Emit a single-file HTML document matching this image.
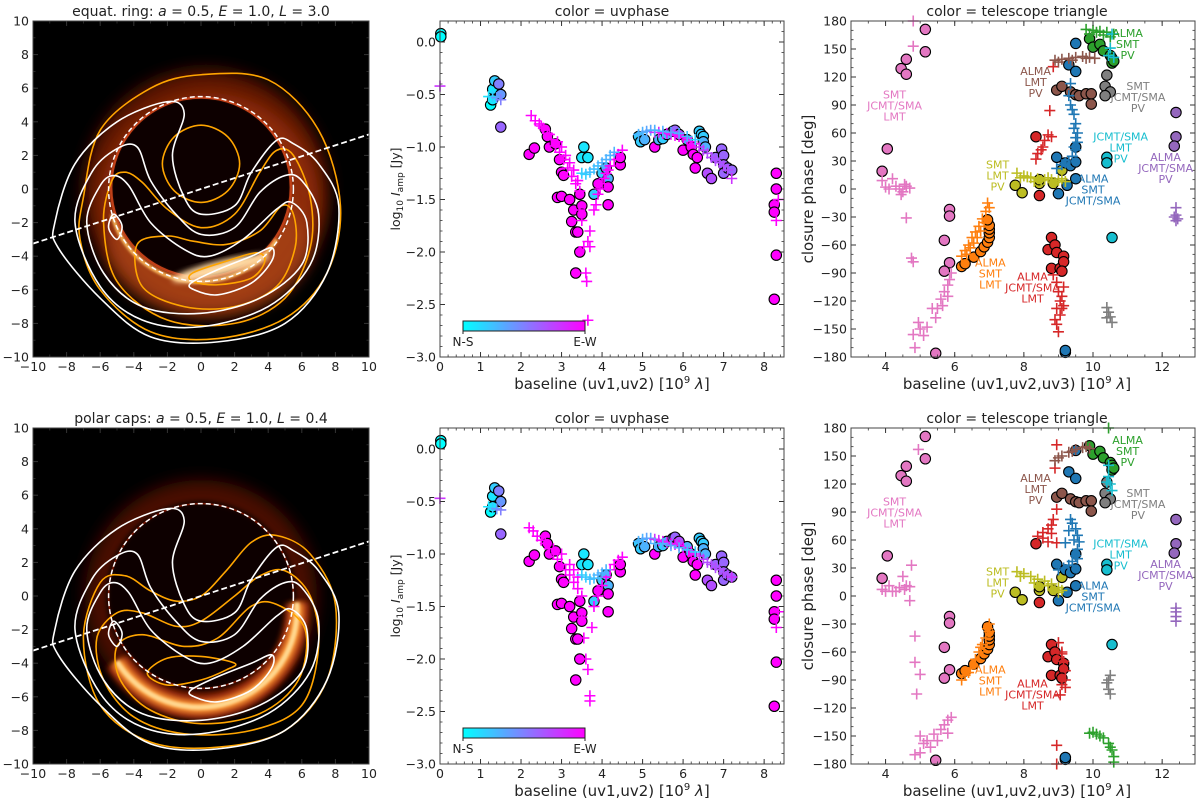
<!DOCTYPE html>
<html><head><meta charset="utf-8"><style>
html,body{margin:0;padding:0;background:#fff;}
svg{display:block;font-family:"DejaVu Sans","Liberation Sans",sans-serif;}
</style></head><body>
<svg id="fig" width="1200" height="802" viewBox="0 0 1200 802" xmlns="http://www.w3.org/2000/svg">
<defs>
<filter id="blur3" x="-20%" y="-20%" width="140%" height="140%"><feGaussianBlur stdDeviation="3"/></filter>
<filter id="blur8" x="-30%" y="-30%" width="160%" height="160%"><feGaussianBlur stdDeviation="8"/></filter>
<filter id="blur1" x="-20%" y="-20%" width="140%" height="140%"><feGaussianBlur stdDeviation="1.2"/></filter>
<linearGradient id="coolbar" x1="0" x2="1" y1="0" y2="0"><stop offset="0" stop-color="#00ffff"/><stop offset="0.5" stop-color="#8080ff"/><stop offset="1" stop-color="#ff00ff"/></linearGradient>
<clipPath id="clipL0"><rect x="33" y="21" width="336" height="336"/></clipPath>
<clipPath id="clipL1"><rect x="33" y="428" width="336" height="336"/></clipPath>
</defs>
</svg>
<script>
// ---------- data: middle panels (x in 1e9 lambda, log10 amp, colour param 0=N-S,1=E-W)
const midCircX=[0.02,0.02,1.25,1.3,1.35,1.45,1.5,1.5,1.3,2.2,2.33,2.6,2.65,2.7,2.85,2.95,3.0,3.05,2.9,3.0,3.2,3.3,3.25,3.35,3.4,3.45,3.35,3.5,3.5,3.45,3.55,3.5,3.65,3.8,3.9,4.0,4.1,4.15,4.15,4.15,4.45,4.45,4.9,4.95,5.05,5.3,5.4,5.5,5.6,5.75,5.8,5.9,6.0,6.1,6.2,6.25,6.3,6.35,6.4,6.45,6.5,6.5,6.55,6.6,6.7,6.8,6.95,7.0,7.0,7.0,7.1,7.2,8.3,8.3,8.25,8.25,8.3,8.25];
const midCircY=[0.08,0.05,-0.6,-0.45,-0.37,-0.4,-0.5,-0.81,-0.55,-1.07,-1.01,-0.83,-0.9,-1.0,-0.97,-1.12,-1.24,-1.27,-1.48,-1.47,-1.5,-1.6,-1.71,-1.81,-1.81,-2.0,-2.2,-1.56,-1.64,-1.45,-1.0,-1.1,-1.1,-1.45,-1.35,-1.25,-1.2,-1.3,-1.38,-1.55,-1.17,-1.1,-0.9,-0.95,-0.93,-1.0,-0.93,-0.92,-0.88,-0.85,-0.84,-0.88,-1.03,-0.93,-1.0,-1.07,-1.2,-1.1,-0.85,-0.88,-0.9,-0.95,-1.0,-1.25,-1.3,-1.1,-1.02,-1.08,-1.17,-1.25,-1.2,-1.22,-1.25,-1.4,-1.55,-1.62,-2.03,-2.45];
const midCircC=[0,0,0,0.1,0.2,0.5,0.4,0.6,0.1,1,1,1,1,1,1,1,1,1,1,1,1,1,1,1,1,1,1,1,1,1,0.1,0.1,0.1,0.2,1,0.2,0.3,0.3,1,1,1,1,0.2,0.2,0.3,1,0.3,0.2,0.3,0.5,0.6,0.7,1,0.3,1,1,1,1,0.2,0.2,0.2,0.3,0.3,0.7,0.7,0.6,0.6,0.6,0.6,0.6,0.6,0.6,1,1,1,1,1,1];
const midCrossTopX=[0.0,1.2,1.3,1.4,1.5,2.25,2.35,2.45,2.55,2.65,2.75,2.85,2.95,3.05,3.15,3.25,3.35,3.45,3.4,3.3,3.2,3.1,3.0,2.9,2.5,2.7,3.45,3.5,3.55,3.6,3.62,3.65,3.7,3.7,3.65,3.8,3.85,3.9,4.0,4.1,4.2,4.3,4.4,4.5,3.95,4.05,4.15,3.5,3.6,3.7,3.8,3.9,4.0,4.1,4.2,4.3,4.9,5.0,5.1,5.2,5.3,5.4,5.5,5.6,5.7,5.8,5.9,6.0,6.1,6.2,6.3,6.4,6.5,6.6,6.7,6.8,6.9,7.0,7.1,7.2,5.3,5.5,5.7,5.9,6.1,6.3,8.35,8.3];
const midCrossTopY=[-0.42,-0.52,-0.52,-0.53,-0.55,-0.7,-0.75,-0.78,-0.82,-0.87,-0.93,-0.99,-1.05,-1.12,-1.2,-1.28,-1.35,-1.42,-1.32,-1.22,-1.15,-1.08,-1.0,-0.95,-0.8,-0.88,-1.6,-1.7,-1.95,-2.2,-2.28,-1.9,-1.8,-1.95,-2.65,-1.6,-1.55,-1.45,-1.35,-1.25,-1.18,-1.12,-1.07,-1.03,-1.4,-1.3,-1.22,-1.25,-1.26,-1.24,-1.21,-1.18,-1.15,-1.12,-1.08,-1.05,-0.88,-0.86,-0.85,-0.84,-0.86,-0.86,-0.87,-0.87,-0.88,-0.89,-0.9,-0.91,-0.93,-0.95,-0.97,-1.0,-1.03,-1.06,-1.1,-1.13,-1.15,-1.18,-1.22,-1.3,-0.84,-0.85,-0.86,-0.87,-0.9,-0.93,-1.5,-1.7];
const midCrossTopC=[0.8,0.1,0.2,0.4,0.5,1,1,1,1,1,1,1,1,1,1,1,1,1,1,1,1,1,1,1,1,1,1,1,1,1,1,1,1,1,1,1,1,1,1,1,1,1,1,1,1,1,1,0.2,0.2,0.25,0.25,0.25,0.3,0.3,0.3,0.3,0.3,0.3,0.35,0.35,0.8,0.85,0.9,0.9,0.95,0.95,1,1,1,1,0.9,0.8,0.75,0.7,0.7,0.7,0.7,0.7,0.7,0.8,0.3,0.3,0.35,0.3,0.25,0.2,1,1];
const midCrossBotX=[0.0,1.2,1.3,1.4,1.5,2.2,2.3,2.4,2.5,2.6,2.7,2.8,2.9,3.0,3.1,3.2,3.3,3.4,3.5,3.4,3.3,3.2,3.0,2.8,3.5,3.55,3.6,3.65,3.7,3.7,3.75,3.8,3.9,4.0,4.1,4.2,4.3,4.4,4.5,3.5,3.6,3.7,3.8,3.9,4.0,4.1,4.9,5.0,5.1,5.2,5.3,5.4,5.5,5.6,5.7,5.8,5.9,6.0,6.1,6.2,6.3,6.4,6.5,6.6,6.7,6.8,6.9,7.0,7.1,7.2,5.3,5.5,5.7,5.9,6.1,6.3,8.35,8.3];
const midCrossBotY=[-0.47,-0.55,-0.56,-0.57,-0.58,-0.75,-0.78,-0.83,-0.87,-0.9,-0.95,-1.0,-1.05,-1.1,-1.15,-1.2,-1.27,-1.33,-1.4,-1.22,-1.15,-1.1,-1.0,-0.95,-1.6,-1.8,-2.0,-2.1,-2.35,-2.4,-1.7,-1.5,-1.4,-1.3,-1.22,-1.15,-1.1,-1.06,-1.03,-1.2,-1.22,-1.24,-1.23,-1.2,-1.18,-1.15,-0.88,-0.86,-0.85,-0.85,-0.86,-0.87,-0.88,-0.89,-0.9,-0.91,-0.92,-0.94,-0.96,-0.98,-1.0,-1.02,-1.05,-1.08,-1.1,-1.13,-1.15,-1.18,-1.2,-1.22,-0.9,-0.9,-0.92,-0.94,-0.96,-0.98,-1.55,-1.7];
const midCrossBotC=[0.8,0.1,0.2,0.4,0.5,1,1,1,1,1,1,1,1,1,1,1,1,1,1,1,1,1,1,1,1,1,1,1,1,1,1,1,1,1,1,1,1,1,1,0.2,0.2,0.25,0.25,0.3,0.3,0.3,0.3,0.3,0.35,0.35,0.8,0.85,0.9,0.9,0.95,0.95,1,1,1,1,0.9,0.8,0.75,0.7,0.7,0.7,0.7,0.7,0.7,0.8,0.3,0.3,0.35,0.3,0.25,0.2,1,1];
const midXTicks=[0,1,2,3,4,5,6,7,8];
const midYTicks=[0.0,-0.5,-1.0,-1.5,-2.0,-2.5,-3.0];

// ---------- data: right panels (x in 1e9 lambda, closure phase deg, triangle index)
const triNames=["pink","orange","olive","red","blue","brown","green","gray","cyan","purple"];
const triColors=["#e377c2","#ff7f0e","#bcbd22","#d62728","#1f77b4","#8c564b","#2ca02c","#7f7f7f","#17becf","#9467bd"];
const rCircX=[3.9,4.05,4.45,4.6,4.6,5.15,5.15,5.45,5.7,5.85,5.85,5.85,5.7, 6.2,6.3,6.55,6.75,6.85,6.95,7.0,7.0,7.0,7.0,6.95, 7.75,7.95,8.45,8.45,9.1,8.85, 8.35,8.45,8.8,8.7,8.9,8.8,8.95,9.05,9.15,9.15,9.1, 9.5,9.3,9.5,8.95,9.0,9.25,9.2,9.35,9.5,9.5,9.5,9.2,9.2, 8.95,9.1,9.35,9.5,9.6,9.8,9.95,9.95, 9.9,10.0,10.2,10.3,10.5,10.55,10.55,10.6, 10.4,10.35,10.5,10.35, 10.4,10.4,10.55, 12.4,12.4,12.35];
const rCircY=[19,43,129,139,123,171,147,-176,-55,-22,-29,-79,-88, -83,-80,-73,-67,-62,-57,-52,-47,-43,-39,-33, 4,-4,6,10,20,6, 56,-7,-52,-65,-60,-85,-68,-85,-72,-78,-88, 156,133,126,34,-5,4,28,25,29,45,11,-175,-173, 106,110,104,101,100,102,102,91, 161,152,155,148,143,140,135,137, 122,110,104,100, 34,28,-52, 82,56,46];
const rCircT=[0,0,0,0,0,0,0,0,0,0,0,0,0, 1,1,1,1,1,1,1,1,1,1,1, 2,2,2,2,2,2, 3,3,3,3,3,3,3,3,3,3,3, 4,4,4,4,4,4,4,4,4,4,4,4,4, 5,5,5,5,5,5,5,5, 6,6,6,6,6,6,6,6, 7,7,7,7, 8,8,8, 9,9,9];
const rCrossTopX=[4.8,4.8,3.9,4.0,4.1,4.2,4.3,4.4,4.5,4.55,4.6,4.7,4.45,4.6,4.75,4.8,4.85,4.8,4.95,5.0,5.1,5.2,5.35,5.45,5.5,5.6,5.7,5.8,5.85,5.9,5.8,5.65, 6.2,6.3,6.4,6.5,6.6,6.7,6.8,6.9,6.95,6.35,6.55,6.75,6.85,6.45,6.65,7.0, 8.85,8.75,8.7,8.6,8.5,8.4,8.35,8.55,8.8,8.85,8.95,9.0,9.05,9.1,9.1,9.15,8.95,8.9,8.95,9.0,9.05,9.15, 8.9,9.1,9.3,9.5,9.7,9.9,10.05,9.0,9.4,9.8, 9.8,10.0,10.2,10.4,10.6,9.9,10.1,10.3,10.5, 10.55,10.5,10.45,10.6, 9.35,9.3,9.35,9.45,9.5,9.55,9.55,9.5,9.4,9.3,9.1,8.95,9.45,9.5,9.45,9.4,9.2, 7.8,8.0,8.2,8.4,8.6,8.8,9.0,9.2,8.1,8.5,8.9,9.1,7.9,8.3,8.7, 10.4,10.45,10.5,10.55,10.4, 12.4,12.4,12.45,12.35,12.4];
const rCrossTopY=[180,153,9,2,0,11,3,0,-3,5,3,1,-6,-31,-74,-78,-170,-156,-143,-150,-157,-148,-128,-138,-128,-118,-110,-103,-97,-90,-115,-125, -72,-66,-60,-52,-46,-40,-32,-24,-15,-70,-58,-45,-36,-63,-52,-20, 131,84,58,52,42,38,32,45,56,-92,-100,-110,-120,-128,-115,-105,-128,-140,-145,-153,-135,-125, 138,139,140,141,142,141,140,136,138,140, 171,170,169,168,166,166,168,165,163, 166,151,143,141, 113,100,90,80,70,60,50,42,35,30,26,22,65,55,45,85,28, 17,14,12,11,10,10,9,8,13,9,7,11,12,8,12, -127,-132,-137,-143,-138, -20,-28,-32,-30,-34];
const rCrossTopT=[0,0,0,0,0,0,0,0,0,0,0,0,0,0,0,0,0,0,0,0,0,0,0,0,0,0,0,0,0,0,0,0, 1,1,1,1,1,1,1,1,1,1,1,1,1,1,1,1, 3,3,3,3,3,3,3,3,3,3,3,3,3,3,3,3,3,3,3,3,3,3, 5,5,5,5,5,5,5,5,5,5, 6,6,6,6,6,6,6,6,6, 8,8,8,8, 4,4,4,4,4,4,4,4,4,4,4,4,4,4,4,4,4, 2,2,2,2,2,2,2,2,2,2,2,2,2,2,2, 7,7,7,7,7, 9,9,9,9,9];
const rCrossBotX=[4.95,3.9,4.0,4.1,4.2,4.3,4.5,4.6,4.4,4.55,4.7,4.75,4.7,4.85,4.85,5.0,4.9,4.85,5.0,5.1,5.0,5.2,5.4,5.6,5.7,5.8,5.9,5.5,5.8,5.3, 6.2,6.3,6.45,6.6,6.7,6.8,6.9,7.0,7.0,6.4,6.75,6.95, 8.95,8.9,8.95,8.85,8.8,8.7,8.55,8.4,8.55,8.7,8.95,8.8,9.1,9.15,9.2,9.2,9.1,9.05,9.2,9.0,9.1,8.95,8.95, 8.9,9.1,9.3,9.5,9.7,9.9,9.0,9.4,9.8, 10.45,9.9,10.1,10.3,10.45,10.55,10.6,10.6,10.0,10.2,10.5, 10.45,10.45,10.5,10.55,10.4, 9.4,9.5,9.55,9.6,9.55,9.5,9.4,9.3,9.15,9.0,9.2,9.45,9.3,9.35,9.55, 7.8,8.0,8.2,8.4,8.6,8.8,9.0,9.1,8.3,8.7,8.9,9.0,7.9, 10.45,10.5,10.4,10.45,10.5, 12.4,12.4,12.4,12.4];
const rCrossBotY=[157,7,5,11,5,5,21,11,9,7,10,33,-5,-43,-71,-84,-105,-170,-168,-158,-150,-155,-148,-143,-138,-133,-130,-155,-147,-162, -90,-85,-78,-68,-60,-52,-45,-38,-30,-82,-55,-35, 162,137,93,82,76,72,68,64,62,58,57,67,-60,-70,-80,-90,-95,-106,-98,-50,-62,-160,-180, 145,150,154,157,159,158,148,155,160, 180,-147,-148,-152,-158,-165,-172,-178,-146,-150,-162, 140,128,120,113,122, 78,72,65,58,50,43,37,33,30,28,57,60,70,82,40, 26,24,21,18,16,13,9,6,14,11,7,4,21, -90,-85,-93,-100,-105, -13,-17,-22,-27];
const rCrossBotT=[0,0,0,0,0,0,0,0,0,0,0,0,0,0,0,0,0,0,0,0,0,0,0,0,0,0,0,0,0,0, 1,1,1,1,1,1,1,1,1,1,1,1, 3,3,3,3,3,3,3,3,3,3,3,3,3,3,3,3,3,3,3,3,3,3,3, 5,5,5,5,5,5,5,5,5, 6,6,6,6,6,6,6,6,6,6,6, 8,8,8,8,8, 4,4,4,4,4,4,4,4,4,4,4,4,4,4,4, 2,2,2,2,2,2,2,2,2,2,2,2,2, 7,7,7,7,7, 9,9,9,9];
const rXTicks=[4,6,8,10,12];
const rYTicks=[180,150,120,90,60,30,0,-30,-60,-90,-120,-150,-180];
const rLabelText=[["ALMA","SMT","PV"],["ALMA","LMT","PV"],["SMT","JCMT/SMA","LMT"],["SMT","JCMT/SMA","PV"],["JCMT/SMA","LMT","PV"],["ALMA","JCMT/SMA","PV"],["SMT","LMT","PV"],["ALMA","SMT","JCMT/SMA"],["ALMA","SMT","LMT"],["ALMA","JCMT/SMA","LMT"]];
const rLabelTri=[6,5,0,7,8,9,2,4,1,3];
const rLabelX=[11.0,8.34,4.26,11.3,10.8,12.1,7.24,10.0,7.03,8.25];
const rLabelDeg=[163,122,97,106,52,30,22,7,-83,-98];

// ---------- data: left panels (image-plane contours, units of M)
const imgTicks=[-10,-8,-6,-4,-2,0,2,4,6,8,10];
const whiteC1=[[-8.7,-2],[-7.5,1.5],[-5,4],[-2,5.2],[-1,4.5],[-1.7,2],[-1,-0.5],[0,-1.5],[2,-1],[3,1],[4.5,2.9],[5.5,2.7],[7,1.5],[8.2,-1],[7.5,-5],[5,-8],[1,-9.1],[-3,-8.8],[-6,-6.5],[-8.5,-3.5]];
const whiteC2=[[-7.5,-2],[-6.5,1],[-5,2.4],[-3.8,2.5],[-3,0.5],[-1.5,-1.5],[0,-2.7],[2,-2.3],[3.5,-0.2],[5,0.8],[6,0.5],[7,-1.5],[6.5,-4.5],[4,-7],[0,-8.2],[-3.5,-7.8],[-6,-5.8]];
const whiteC3=[[-6.8,-2],[-6,0.2],[-5.2,0.8],[-4.3,0.2],[-3,-2],[-1,-3.6],[0.5,-4],[2.5,-3],[4.5,-1.2],[5.4,-0.8],[6.3,-2],[6,-4.5],[3.5,-6.5],[0,-7.4],[-3.5,-7],[-5.8,-5]];
const whiteC4=[[-5.2,-1.5],[-4.7,-2.2],[-5,-3],[-5.5,-2.3]];
const whiteC5=[[-0.6,-5.6],[1,-4.8],[3,-4],[4.2,-3.5],[4.2,-4.3],[3,-5.6],[1,-6.3],[-0.4,-6]];
const orTop1=[[-7,-0.5],[-6,3.5],[-3,6],[0,6.8],[4,6.5],[7,3.5],[8.3,-1],[7.5,-5],[5,-7.7],[1,-8.9],[-3,-8.5],[-6,-6],[-7.2,-3]];
const orTop2=[[0,3.8],[1.6,3.1],[2.3,1.5],[1.6,-0.1],[0,-0.8],[-1.6,-0.1],[-2.3,1.5],[-1.6,3.1]];
const orTop3=[[-5.8,-2],[-5.3,0.5],[-4.5,1],[-3.5,0.4],[-2,-1.2],[0,-2.3],[2,-1.5],[3.5,1],[4.5,2.3],[5.5,2],[6.5,-0.5],[6.5,-3.5],[5,-6.5],[2,-8],[-2,-7.8],[-5,-5.5]];
const orTop4=[[-3.8,-3.3],[-2,-2.8],[-0.5,-3.1],[1.5,-3.3],[3.5,-2.5],[4.8,-1],[5.5,-1.5],[5.6,-3.5],[4.5,-5.8],[2,-7],[-1,-7],[-3.5,-5.8]];
const orTop5=[[-0.5,-5],[1.5,-4.3],[3.3,-3.8],[3.8,-4.3],[3,-5.3],[1,-5.7],[-0.5,-5.5]];
const orBot1=[[-7,-2.5],[-6,0.8],[-4.5,1.2],[-3,0.3],[-1.5,-0.3],[0,0],[1.5,1.5],[3,3.2],[4.5,3.6],[6.5,2.5],[8,-0.5],[7.5,-5],[5,-8],[1,-9],[-3,-8.7],[-6,-6.5]];
const orBot2=[[-6.2,-2.5],[-5,-1],[-3.5,-1],[-1.5,-1.8],[0,-1.5],[2,0],[3.5,1.2],[5,1.5],[6.5,0],[7,-3],[6,-6.5],[3,-8],[-1,-8.2],[-4,-7.2],[-5.8,-5]];
const orBot3=[[-5,-3],[-3.5,-2.3],[-1,-3],[1,-2.5],[3,-0.6],[4.5,-0.5],[6.2,-2],[5.8,-5],[3.5,-7],[0,-7.6],[-3,-6.8],[-4.8,-5]];
const orBot4=[[-3.2,-4.6],[-2,-3.7],[0,-3.6],[2,-4],[1.5,-4.4],[0,-5],[-2,-5.3]];
</script>
<script>
const NS="http://www.w3.org/2000/svg";
const svg=document.getElementById('fig');
function mk(tag,attrs,parent){const e=document.createElementNS(NS,tag);for(const k in attrs)e.setAttribute(k,attrs[k]);(parent||svg).appendChild(e);return e;}
function fmt(v,dec){let s=v.toFixed(dec);return s.replace('-','\u2212');}
function cool(t){return 'rgb('+Math.round(255*t)+','+Math.round(255*(1-t))+',255)';}

function axes(name,X0,X1,Y0,Y1,xmin,xmax,ymin,ymax,xt,yt,xdec,ydec,xminor,yminor){
  const g=mk('g',{});
  
  
  const sx=v=>X0+(v-xmin)/(xmax-xmin)*(X1-X0);
  const sy=v=>Y1-(v-ymin)/(ymax-ymin)*(Y1-Y0);
  return {g,sx,sy,X0,X1,Y0,Y1,xmin,xmax,ymin,ymax,xt,yt,xdec,ydec,xminor,yminor,name};
}
function frame(a){
  const g=mk('g',{});
  
  
  const tc='#333';
  for(let v=Math.ceil(a.xmin/a.xminor)*a.xminor;v<=a.xmax+1e-9;v+=a.xminor){const x=a.sx(v);
    mk('line',{x1:x,x2:x,y1:a.Y1,y2:a.Y1-2.5,stroke:tc,'stroke-width':0.8},g);mk('line',{x1:x,x2:x,y1:a.Y0,y2:a.Y0+2.5,stroke:tc,'stroke-width':0.8},g);}
  for(let v=Math.ceil(a.ymin/a.yminor)*a.yminor;v<=a.ymax+1e-9;v+=a.yminor){const y=a.sy(v);
    mk('line',{x1:a.X0,x2:a.X0+2.5,y1:y,y2:y,stroke:tc,'stroke-width':0.8},g);mk('line',{x1:a.X1,x2:a.X1-2.5,y1:y,y2:y,stroke:tc,'stroke-width':0.8},g);}
  a.xt.forEach(v=>{const x=a.sx(v);
    mk('line',{x1:x,x2:x,y1:a.Y1,y2:a.Y1-5,stroke:tc,'stroke-width':1},g);mk('line',{x1:x,x2:x,y1:a.Y0,y2:a.Y0+5,stroke:tc,'stroke-width':1},g);
    const t=mk('text',{x:x,y:a.Y1+14,'text-anchor':'middle','font-size':12.5,fill:'#222'},g);t.textContent=fmt(v,a.xdec);
    
    });
  a.yt.forEach(v=>{const y=a.sy(v);
    mk('line',{x1:a.X0,x2:a.X0+5,y1:y,y2:y,stroke:tc,'stroke-width':1},g);mk('line',{x1:a.X1,x2:a.X1-5,y1:y,y2:y,stroke:tc,'stroke-width':1},g);
    const t=mk('text',{x:a.X0-4,y:y+4.5,'text-anchor':'end','font-size':12.5,fill:'#222'},g);t.textContent=fmt(v,a.ydec);
    
    });
  mk('rect',{x:a.X0,y:a.Y0,width:a.X1-a.X0,height:a.Y1-a.Y0,fill:'none',stroke:'#444','stroke-width':1},g);
}
function title(x,y,html,name){const t=mk('text',{x:x,y:y,'text-anchor':'middle','font-size':14,fill:'#222'});t.innerHTML=html;
  
  return t;}
function smooth(pts,a){
  const P=pts.map(p=>[a.sx(p[0]),a.sy(p[1])]);const n=P.length;let d='M'+P[0][0]+','+P[0][1];
  for(let i=0;i<n;i++){const p0=P[(i-1+n)%n],p1=P[i],p2=P[(i+1)%n],p3=P[(i+2)%n];
    d+=' C'+(p1[0]+(p2[0]-p0[0])/6)+','+(p1[1]+(p2[1]-p0[1])/6)+' '+(p2[0]-(p3[0]-p1[0])/6)+','+(p2[1]-(p3[1]-p1[1])/6)+' '+p2[0]+','+p2[1];}
  return d+'Z';
}
function circ(g,x,y,fill){const c=mk('circle',{cx:x,cy:y,r:5.2,fill:fill,stroke:'#000','stroke-width':1.1},g);return c;}
function cross(g,x,y,col){const p=mk('path',{d:'M'+(x-5.5)+','+y+'H'+(x+5.5)+'M'+x+','+(y-5.5)+'V'+(y+5.5),stroke:col,'stroke-width':1.6,fill:'none'},g);return p;}

// ------------ LEFT image panels
function imagePanel(row){
  const dy=row*407;
  const a=axes('image-'+row,33,369,21+dy,357+dy,-10,10,-10,10,imgTicks,imgTicks,0,0,1,1);
  const cl=mk('g',{'clip-path':'url(#clipL'+row+')'});
  
  
  mk('rect',{x:33,y:21+dy,width:336,height:336,fill:'#000'},cl);
  const u=16.8;const cx=a.sx(0),cy=a.sy(0);
  if(row===0){
    mk('circle',{cx:a.sx(0.3),cy:a.sy(-0.2),r:7.3*u,fill:'#5e1204',filter:'url(#blur8)'},cl);
    mk('circle',{cx:a.sx(0.5),cy:a.sy(-0.8),r:6.5*u,fill:'#9a3010',opacity:0.8,filter:'url(#blur8)'},cl);
    mk('ellipse',{cx:a.sx(0.5),cy:a.sy(-3.5),rx:6*u,ry:4*u,fill:'#c86028',opacity:0.35,filter:'url(#blur8)'},cl);
    mk('circle',{cx:cx,cy:a.sy(0.1),r:5.35*u,fill:'#0a0000',filter:'url(#blur1)'},cl);
    mk('circle',{cx:cx,cy:a.sy(0.1),r:5.35*u,fill:'none',stroke:'#c04018','stroke-width':2.5},cl);
    mk('path',{d:'M'+a.sx(-5.3)+','+a.sy(-1.5)+' A'+5.4*u+','+5.4*u+' 0 0,0 '+a.sx(4.5)+','+a.sy(-3),fill:'none',stroke:'#ffc060','stroke-width':3.5,filter:'url(#blur1)'},cl);
    mk('ellipse',{cx:a.sx(1.2),cy:a.sy(-4.7),rx:3*u,ry:0.45*u,fill:'#ffd8a0',transform:'rotate(-14 '+a.sx(1.2)+' '+a.sy(-4.7)+')',filter:'url(#blur3)'},cl);
  } else {
    mk('circle',{cx:cx,cy:a.sy(0),r:6.9*u,fill:'#4a0c02',filter:'url(#blur8)'},cl);
    mk('circle',{cx:cx,cy:a.sy(0),r:5.6*u,fill:'#0a0000',filter:'url(#blur3)'},cl);
    mk('circle',{cx:cx,cy:a.sy(0),r:5.5*u,fill:'none',stroke:'#7a1a06','stroke-width':1.5},cl);
    const arc='M'+a.sx(-5)+','+a.sy(-3.9)+' A'+5.8*u+','+5.8*u+' 0 0,0 '+a.sx(5.7)+','+a.sy(-0.4);
    mk('path',{d:arc,fill:'none',stroke:'#a83008','stroke-width':24,filter:'url(#blur3)',opacity:0.9},cl);
    mk('path',{d:arc,fill:'none',stroke:'#ff9a38','stroke-width':12,filter:'url(#blur3)'},cl);
    mk('path',{d:arc,fill:'none',stroke:'#ffd890','stroke-width':5,filter:'url(#blur1)'},cl);
  }
  const whites=[whiteC1,whiteC2,whiteC3,whiteC4,whiteC5];
  const oranges=row===0?[orTop1,orTop2,orTop3,orTop4,orTop5]:[orBot1,orBot2,orBot3,orBot4];
  oranges.forEach(c=>{const p=mk('path',{d:smooth(c,a),fill:'none',stroke:'#ffa500','stroke-width':1.6},cl);
    
    });
  whites.forEach(c=>{const p=mk('path',{d:smooth(c,a),fill:'none',stroke:'#fff','stroke-width':1.6},cl);
    
    });
  const dc=mk('circle',{cx:cx,cy:cy,r:5.5*u,fill:'none',stroke:'#fff','stroke-width':1.5,'stroke-dasharray':'5,3'},cl);
  
  
  const dl=mk('line',{x1:a.sx(-10),y1:a.sy(-3.25),x2:a.sx(10),y2:a.sy(3.25),stroke:'#fff','stroke-width':1.8,'stroke-dasharray':'6,3'},cl);
  
  
  frame(a);
}
imagePanel(0);imagePanel(1);
title(201,16,'equat. ring: <tspan font-style="italic">a</tspan> = 0.5, <tspan font-style="italic">E</tspan> = 1.0, <tspan font-style="italic">L</tspan> = 3.0','image-title-top');
title(201,423,'polar caps: <tspan font-style="italic">a</tspan> = 0.5, <tspan font-style="italic">E</tspan> = 1.0, <tspan font-style="italic">L</tspan> = 0.4','image-title-bottom');

// ------------ MIDDLE amplitude panels
function ampPanel(row){
  const dy=row*407;
  const a=axes('amplitude-'+row,440,784,21+dy,357+dy,0,8.49,-3,0.2,midXTicks,midYTicks,0,1,0.2,0.1);
  const g=mk('g',{});
  
  
  midCircX.forEach((x,i)=>{const c=circ(g,a.sx(x),a.sy(midCircY[i]),cool(midCircC[i]));
    
    });
  const X=row?midCrossBotX:midCrossTopX,Y=row?midCrossBotY:midCrossTopY,C=row?midCrossBotC:midCrossTopC;
  X.forEach((x,i)=>{const p=cross(g,a.sx(x),a.sy(Y[i]),cool(C[i]));
    
    });
  const cb=mk('g',{});
  
  
  mk('rect',{x:463,y:321+dy,width:122,height:10,fill:'url(#coolbar)',stroke:'#222','stroke-width':1},cb);
  mk('line',{x1:463,x2:463,y1:331+dy,y2:334+dy,stroke:'#222'},cb);mk('line',{x1:585,x2:585,y1:331+dy,y2:334+dy,stroke:'#222'},cb);
  let t=mk('text',{x:463,y:346+dy,'text-anchor':'middle','font-size':12,fill:'#222'},cb);t.textContent='N-S';
  t=mk('text',{x:585,y:346+dy,'text-anchor':'middle','font-size':12,fill:'#222'},cb);t.textContent='E-W';
  frame(a);
  title(612,16+dy,'color = uvphase','amplitude-title');
  const xl=mk('text',{x:612,y:389+dy,'text-anchor':'middle','font-size':15,fill:'#222'});
  xl.innerHTML='baseline (uv1,uv2) [10<tspan dy="-6" font-size="10">9</tspan><tspan dy="6"> </tspan><tspan font-style="italic">λ</tspan>]';
  
  
  const yl=mk('text',{x:0,y:0,'text-anchor':'middle','font-size':12.5,fill:'#222',transform:'translate(400,'+(189+dy)+') rotate(-90)'});
  yl.innerHTML='log<tspan dy="3" font-size="9">10</tspan><tspan dy="-3"> </tspan><tspan font-style="italic">I</tspan><tspan dy="3" font-size="9">amp</tspan><tspan dy="-3"> [Jy]</tspan>';
  
  
}
ampPanel(0);ampPanel(1);

// ------------ RIGHT closure phase panels
function cpPanel(row){
  const dy=row*407;
  const a=axes('closure-phase-'+row,851,1195,21+dy,357+dy,3,12.95,-180,180,rXTicks,rYTicks,0,0,0.5,10);
  const g=mk('g',{});
  
  
  rCircX.forEach((x,i)=>{const c=circ(g,a.sx(x),a.sy(rCircY[i]),triColors[rCircT[i]]);
    
    });
  const X=row?rCrossBotX:rCrossTopX,Y=row?rCrossBotY:rCrossTopY,T=row?rCrossBotT:rCrossTopT;
  X.forEach((x,i)=>{const p=cross(g,a.sx(x),a.sy(Y[i]),triColors[T[i]]);
    
    });
  rLabelText.forEach((lines,i)=>{
    const t=mk('text',{x:a.sx(rLabelX[i]),y:a.sy(rLabelDeg[i]),'text-anchor':'middle','font-size':11,fill:triColors[rLabelTri[i]]});
    lines.forEach((s,j)=>{const ts=mk('tspan',{x:a.sx(rLabelX[i]),dy:j?11:0},t);ts.textContent=s;});
    
    
  });
  frame(a);
  title(1017,16+dy,'color = telescope triangle','closure-phase-title');
  const xl=mk('text',{x:1017,y:389+dy,'text-anchor':'middle','font-size':15,fill:'#222'});
  xl.innerHTML='baseline (uv1,uv2,uv3) [10<tspan dy="-6" font-size="10">9</tspan><tspan dy="6"> </tspan><tspan font-style="italic">λ</tspan>]';
  
  
  const yl=mk('text',{x:0,y:0,'text-anchor':'middle','font-size':15,fill:'#222',transform:'translate(813,'+(189+dy)+') rotate(-90)'});
  yl.textContent='closure phase [deg]';
  
  
}
cpPanel(0);cpPanel(1);
</script>
</body></html>
